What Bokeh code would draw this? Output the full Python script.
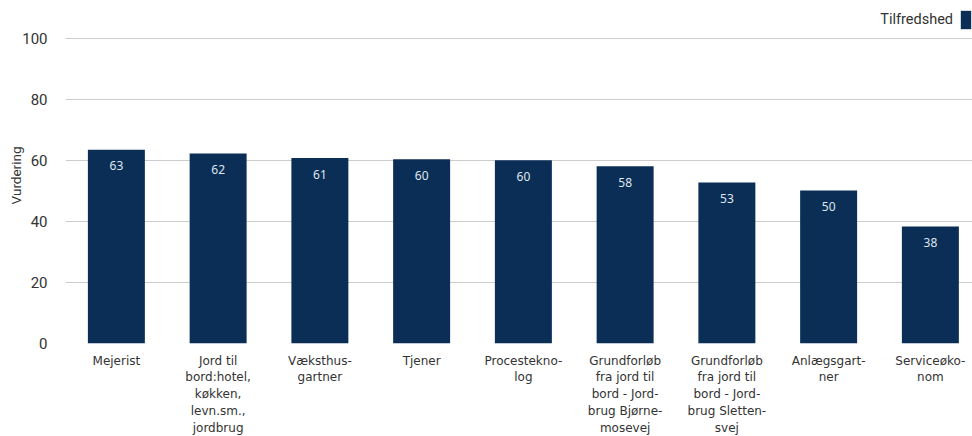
from bokeh.plotting import figure
from bokeh.models import ColumnDataSource, Legend, LegendItem, Range1d, FixedTicker, Label
from bokeh.core.properties import value
from bokeh.embed import file_html
from bokeh.resources import INLINE

categories = [
    "Mejerist",
    "Jord til\nbord:hotel,\nkøkken,\nlevn.sm.,\njordbrug",
    "Væksthus-\ngartner",
    "Tjener",
    "Procestekno-\nlog",
    "Grundforløb\nfra jord til\nbord - Jord-\nbrug Bjørne-\nmosevej",
    "Grundforløb\nfra jord til\nbord - Jord-\nbrug Sletten-\nsvej",
    "Anlægsgart-\nner",
    "Serviceøko-\nnom",
]
values = [63.5, 62.3, 60.8, 60.4, 60.1, 58.1, 52.8, 50.2, 38.4]
value_labels = ["63", "62", "61", "60", "60", "58", "53", "50", "38"]
series_name = "Tilfredshed"
y_ticks = [0, 20, 40, 60, 80, 100]

# category slot centres on a numeric scale
xs = [i + 0.5 for i in range(len(categories))]
src = ColumnDataSource(dict(x=xs, val=values, lab=value_labels))

X_END = 8.914
Y_END = 110.16

p = figure(
    x_range=Range1d(0, X_END),
    y_range=Range1d(0, Y_END),
    width=972, height=445,
    output_backend="svg", toolbar_location=None,
    min_border_left=65, min_border_right=0, min_border_top=7, min_border_bottom=102,
)
p.outline_line_color = None
p.background_fill_color = "white"
p.border_fill_color = "white"

bars = p.vbar(x="x", top="val", width=0.56, source=src,
              fill_color="#0b2e56", line_color=None)

p.text(x="x", y="val", text="lab", source=src, text_align="center",
       text_baseline="middle", y_offset=16, text_font_size="12px",
       text_color="#dfe6ee", text_font=value("Noto Sans"))

p.xgrid.grid_line_color = None
p.ygrid.grid_line_color = "#cccccc"
p.ygrid.grid_line_width = 1
p.yaxis.ticker = FixedTicker(ticks=y_ticks)
p.yaxis.axis_line_color = None
p.yaxis.major_tick_line_color = None
p.yaxis.minor_tick_line_color = None
p.yaxis.major_label_standoff = 12
p.yaxis.major_label_text_font = "Roboto"
p.yaxis.major_label_text_font_size = "15px"
p.yaxis.major_label_text_color = "#333333"
p.yaxis.axis_label = "Vurdering"
p.yaxis.axis_label_text_font = "Roboto"
p.yaxis.axis_label_text_font_style = "normal"
p.yaxis.axis_label_text_font_size = "13.5px"
p.yaxis.axis_label_text_color = "#333333"
p.yaxis.axis_label_standoff = -5

p.xaxis.ticker = FixedTicker(ticks=xs)
p.xaxis.major_label_overrides = {x: c for x, c in zip(xs, categories)}
p.xaxis.axis_line_color = None
p.xaxis.major_tick_line_color = None
p.xaxis.minor_tick_line_color = None
p.xaxis.major_label_standoff = 4
p.xaxis.major_label_text_font = "DejaVu Sans"
p.xaxis.major_label_text_font_size = "12px"
p.xaxis.major_label_text_color = "#333333"
p.xaxis.major_label_text_line_height = 1.2

legend = Legend(
    items=[LegendItem(label=" ", renderers=[bars])],
    location=(894, 312),
    glyph_width=13, glyph_height=23,
    label_standoff=0, label_width=0,
    label_text_font_size="1px",
    background_fill_alpha=0, border_line_color=None,
    padding=0, margin=0, spacing=0,
)
p.add_layout(legend, "center")

p.add_layout(Label(x=X_END, y=Y_END, x_offset=-19.5, y_offset=-12,
                   text=series_name, text_align="right", text_baseline="middle",
                   text_font="Roboto", text_font_size="14.5px", text_color="#333333"))

open("out.html", "w").write(file_html(p, INLINE))
